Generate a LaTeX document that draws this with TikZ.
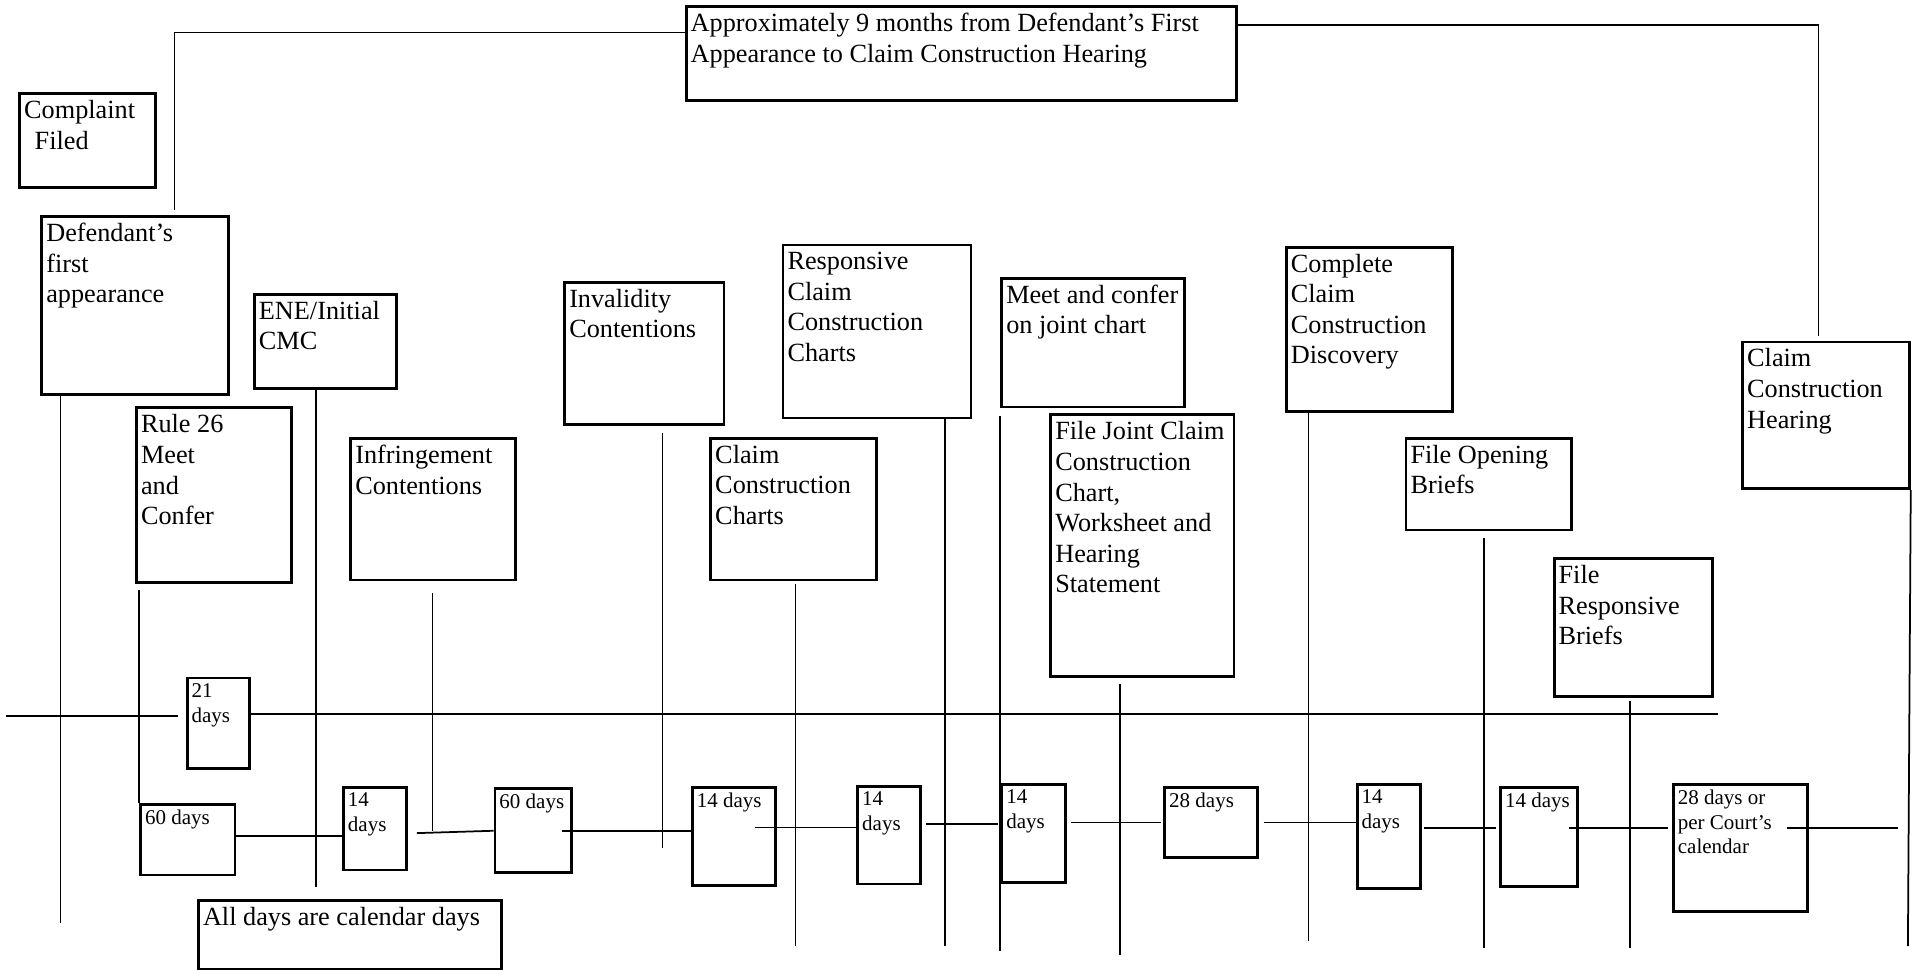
\documentclass[tikz,border=0pt]{standalone}
\usepackage{fontspec}
\setmainfont{Liberation Serif}
\newcommand{\bigtxt}{\fontsize{12}{14}\selectfont}
\newcommand{\daytxt}{\fontsize{9.6}{11.3}\selectfont}

\begin{document}
\begin{tikzpicture}[x=0.558pt, y=-0.558pt,
  stage/.style 2 args={draw, line width=1.3pt, anchor=north west, inner sep=0pt,
    minimum width=#1*0.558pt, minimum height=#2*0.558pt},
  big/.style={anchor=north west, align=left, font=\bigtxt, inner xsep=2.5pt, inner ysep=3.5pt},
  small/.style={anchor=north west, align=left, font=\daytxt, inner xsep=2.5pt, inner ysep=3pt},
  link/.style={line width=0.8pt},
  thin/.style={line width=0.5pt}]
\useasboundingbox (0,0) rectangle (1568,794);

% events
\node[stage={111.4}{76.5}, label={[big]north west:{Complaint\\\hspace*{0.4em}Filed}}] (cf) at (15,75.6) {};
\node[stage={152.9}{146}, label={[big]north west:{Defendant's\\first\\appearance}}] (dfa) at (33.1,176) {};
\node[stage={116.2}{77}, label={[big]north west:{ENE/Initial\\CMC}}] (ene) at (207.3,240) {};
\node[stage={127.2}{142.7}, label={[big]north west:{Rule 26\\Meet\\and\\Confer}}] (r26) at (110.7,333) {};
\node[stage={135.1}{116}, label={[big]north west:{Infringement\\Contentions}}] (inf) at (286.2,358) {};
\node[stage={130.5}{116.5}, label={[big]north west:{Invalidity\\Contentions}}] (inv) at (461.5,230) {};
\node[stage={154.5}{142}, line width=0.9pt, label={[big]north west:{Responsive\\Claim\\Construction\\Charts}}] (rcc) at (640.3,200) {};
\node[stage={135.5}{116}, label={[big]north west:{Claim\\Construction\\Charts}}] (ccc) at (581.1,358) {};
\node[stage={150}{105.6}, label={[big]north west:{Meet and confer\\on joint chart}}] (mc) at (819.5,226.7) {};
\node[stage={150}{214}, label={[big]north west:{File Joint Claim\\Construction\\Chart,\\Worksheet and\\Hearing\\Statement}}] (fjc) at (859.7,338.7) {};
\node[stage={135.7}{134.8}, label={[big]north west:{Complete\\Claim\\Construction\\Discovery}}] (ccd) at (1052.7,201.3) {};
\node[stage={135.7}{75}, label={[big]north west:{File Opening\\Briefs}}] (fob) at (1150.7,358) {};
\node[stage={130}{113}, label={[big]north west:{File\\Responsive\\Briefs}}] (frb) at (1272,456.4) {};
\node[stage={136.5}{120.2}, label={[big]north west:{Claim\\Construction\\Hearing}}] (cch) at (1426.5,279) {};
\node[stage={450.5}{77}, label={[big]north west:{Approximately 9 months from Defendant's First\\Appearance to Claim Construction Hearing}}] (appr) at (561,4.1) {};
\node[stage={248}{56.2}, label={[big]north west:{All days are calendar days}}] (all) at (161.5,736.7) {};

% intervals
\node[stage={51}{74.3}, label={[small]north west:{21\\days}}] (d21) at (152.1,554.2) {};
\node[stage={77.3}{58.1}, label={[small]north west:{60 days}}] (d60a) at (114,657.6) {};
\node[stage={51.8}{67.5}, label={[small]north west:{14\\days}}] (d14a) at (280.2,644) {};
\node[stage={62.8}{69}, label={[small]north west:{60 days}}] (d60b) at (404.3,644.9) {};
\node[stage={68}{80.3}, label={[small]north west:{14 days}}] (d14c) at (566,643.7) {};
\node[stage={51.5}{80.1}, label={[small]north west:{14\\days}}] (d14d) at (701.5,642.9) {};
\node[stage={52}{80.3}, label={[small]north west:{14\\days}}] (d14e) at (819.5,641.3) {};
\node[stage={76.2}{56.8}, label={[small]north west:{28 days}}] (d28a) at (953,644.2) {};
\node[stage={51.8}{85.7}, label={[small]north west:{14\\days}}] (d14f) at (1110.6,641.3) {};
\node[stage={62.8}{81.3}, label={[small]north west:{14 days}}] (d14g) at (1228.2,643.7) {};
\node[stage={109.7}{104.2}, label={[small]north west:{28 days or\\per Court's\\calendar}}] (d28b) at (1369.7,641.3) {};

% free ends
\coordinate (brkL) at (142.7,26.8);
\coordinate (brkR) at (1490,20.5);
\coordinate (tlL) at (5,586.5);
\coordinate (tlR) at (1407,585);
\coordinate (dfa-end) at (49.5,756);
\coordinate (ene-end) at (259,727);
\coordinate (inf-end) at (354,681);
\coordinate (inv-end) at (542.7,695);
\coordinate (ccc-end) at (651.7,775);
\coordinate (rcc-end) at (774.4,775);
\coordinate (mc-end) at (819.5,779);
\coordinate (fjc-end) at (917.5,782);
\coordinate (ccd-end) at (1071.8,771);
\coordinate (fob-end) at (1216,777);
\coordinate (frb-end) at (1335.3,777);
\coordinate (cch-end) at (1563,775);
\coordinate (d28b-end) at (1555,678.4);

% nine months bracket
\draw[line width=0.6pt] ([yshift=2pt]dfa.north -| brkL) -- (brkL) -- (brkL -| appr.west);
\draw[line width=0.6pt] (brkR -| appr.east) -- (brkR) -- ([yshift=2pt]cch.north -| brkR);

% upper time line
\draw[link] (tlL) -- ([xshift=-3.3pt]tlL -| d21.west);
\draw[link] (tlR -| d21.east) -- (tlR);

% drops
\draw[link] (dfa.south -| dfa-end) -- (dfa-end);
\draw[link] (ene.south -| ene-end) -- (ene-end);
\draw[link] ([yshift=-2.8pt]r26.south -| d60a.north west) -- (d60a.north west);
\draw[thin] ([yshift=-5.5pt]inf.south -| inf-end) -- (inf-end);
\draw[thin] ([yshift=-3.3pt]inv.south -| inv-end) -- (inv-end);
\draw[link] ([yshift=-1pt]ccc.south -| ccc-end) -- (ccc-end);
\draw[link] (rcc.south -| rcc-end) -- (rcc-end);
\draw[link] ([yshift=-3.3pt]mc.south west) -- (mc-end);
\draw[link] ([yshift=-2.8pt]fjc.south -| fjc-end) -- (fjc-end);
\draw[thin] (ccd.south -| ccd-end) -- (ccd-end);
\draw[link] ([yshift=-2.8pt]fob.south -| fob-end) -- (fob-end);
\draw[link] ([yshift=-1.5pt]frb.south -| frb-end) -- (frb-end);
\draw[link] (cch.south east) -- (cch-end);

% lower time line
\draw[link] ([yshift=1.5pt]d60a.east) coordinate (p1) -- (p1 -| d14a.west);
\draw[link] ([xshift=4pt,yshift=-2pt]d14a.east) -- (d60b.west);
\draw[link] ([xshift=-5pt]d60b.east) coordinate (p3) -- (p3 -| d14c.west);
\draw[link] ([xshift=-10pt,yshift=4pt]d14c.east) coordinate (p4) -- (p4 -| d14d.west);
\draw[link] ([xshift=2pt,yshift=5pt]d14d.east) coordinate (p5) -- ([xshift=-1pt]p5 -| d14e.west);
\draw[link] ([xshift=2pt]d14e.east |- d28a.west) -- ([xshift=-1pt]d28a.west);
\draw[link] ([xshift=2pt]d28a.east) coordinate (p7) -- (p7 -| d14f.west);
\draw[link] ([xshift=1pt,yshift=4pt]d14f.east) coordinate (p8) -- ([xshift=-1.5pt]p8 -| d14g.west);
\draw[link] ([xshift=-4.5pt,yshift=4pt]d14g.east) coordinate (p9) -- ([xshift=-2pt]p9 -| d28b.west);
\draw[link] ([xshift=-10pt]d28b.east |- d28b-end) -- (d28b-end);

\end{tikzpicture}
\end{document}
